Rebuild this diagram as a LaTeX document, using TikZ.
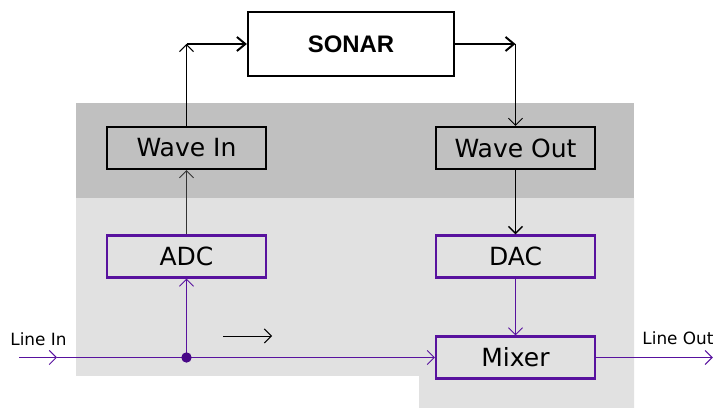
\documentclass[tikz,border=0pt]{standalone}
\usepackage{fontspec}
\setmainfont{DejaVu Sans}
\newfontfamily\sonarfont{Liberation Sans}
\usetikzlibrary{arrows.meta}
\definecolor{purp}{RGB}{88,18,158}
\definecolor{purpdot}{RGB}{72,8,135}
\definecolor{bgdark}{RGB}{192,192,192}
\definecolor{bglight}{RGB}{225,225,225}

\begin{document}
\begin{tikzpicture}[every node/.style={inner sep=1.5pt},
  >={Straight Barb[length=5pt,width=10pt]},
  unit/.style={draw=black, line width=1.5pt, minimum width=3.975cm, minimum height=1.05cm,
    font=\fontsize{17.8}{20}\selectfont},
  punit/.style={unit, draw=purp},
  lbl/.style={font=\fontsize{12}{14}\selectfont, anchor=base},
  wire/.style={line width=0.7pt},
  thickwire/.style={line width=1.4pt, -{Straight Barb[length=6pt,width=10pt]}}]
  \useasboundingbox (0,0) rectangle (17.85,10.2);
  % background areas
  \fill[bglight] (1.9,5.25) -- (15.85,5.25) -- (15.85,0) -- (10.475,0) -- (10.475,0.8) -- (1.9,0.8) -- cycle;
  \fill[bgdark] (1.9,5.25) rectangle (15.85,7.625);
  % boxes
  \node[draw=black, fill=white, line width=1.6pt, minimum width=5.15cm, minimum height=1.6cm,
    font=\sonarfont\bfseries\fontsize{17}{20}\selectfont] (sonar) at (8.775,9.1) {SONAR};
  \node[unit] (wavein) at (4.6625,6.5) {Wave In};
  \node[unit] (waveout) at (12.8875,6.5) {Wave Out};
  \node[punit] (adc) at (4.6625,3.7875) {ADC};
  \node[punit] (dac) at (12.8875,3.7875) {DAC};
  \node[punit] (mixer) at (12.8875,1.2625) {Mixer};
  % corners and free ends
  \coordinate (upL) at (wavein.north |- sonar.west);
  \coordinate (upR) at (waveout.north |- sonar.east);
  \coordinate (tap) at (adc.south |- mixer.west);
  \coordinate (linein) at (0.475,1.2625);
  \coordinate (inmark) at (1.425,1.2625);
  \coordinate (lineout) at (17.82,1.2625);
  \coordinate (hintA) at (5.575,1.8);
  \coordinate (hintB) at (6.8,1.8);
  % digital path
  \draw[wire, ->] (wavein.north) -- (upL);
  \draw[thickwire] (upL) -- (sonar.west);
  \draw[thickwire] (sonar.east) -- (upR);
  \draw[wire, ->] (upR) -- (waveout.north);
  \draw[wire, draw=black!80, ->] (adc.north) -- (wavein.south);
  \draw[line width=1pt, ->] (waveout.south) -- (dac.north);
  % analog path
  \draw[wire, purp, ->] (dac.south) -- (mixer.north);
  \draw[wire, purp, ->] (linein) -- (inmark);
  \draw[wire, purp, ->] (inmark) -- (mixer.west);
  \draw[wire, purp, ->] (tap) -- (adc.south);
  \draw[wire, purp, ->] (mixer.east) -- (lineout);
  \fill[purpdot] (tap) circle (0.13);
  \draw[wire, ->] (hintA) -- (hintB);
  \node[lbl] (linein-lbl) at (0.9625,1.55) {Line In};
  \node[lbl] (lineout-lbl) at (16.95,1.575) {Line Out};
\end{tikzpicture}
\end{document}
